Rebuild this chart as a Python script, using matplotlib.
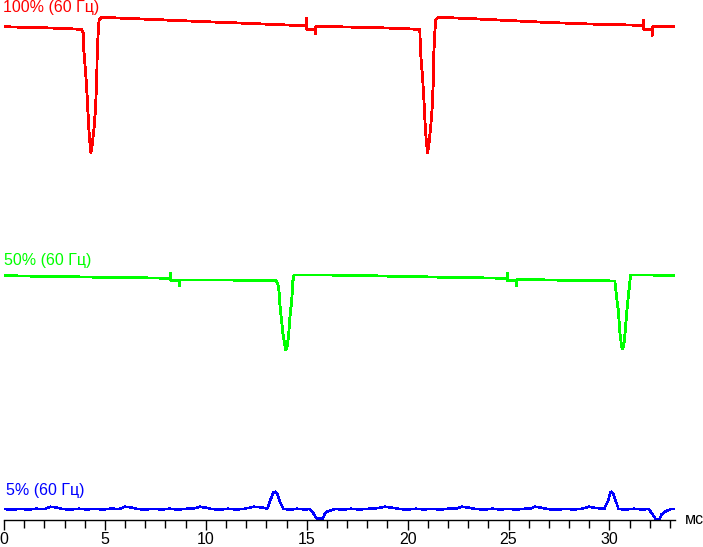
"""Screen brightness vs. time at 100 %, 50 % and 5 % backlight (60 Hz)."""

import matplotlib
matplotlib.use("Agg")
import matplotlib.pyplot as plt
from matplotlib.ticker import MultipleLocator

plt.rcParams["font.family"] = ["Liberation Sans", "DejaVu Sans"]

# time in ms, level in arbitrary units (traces stacked on one vertical scale)
red_t = [0.00, 1.0, 2.0, 3.0, 3.80, 3.85, 3.93, 3.96, 4.06, 4.13, 4.18, 4.23, 4.28,
         4.31, 4.38, 4.46, 4.53, 4.59, 4.62, 4.67, 4.71, 4.84, 6.0, 8.0, 10.0, 12.0,
         14.0, 14.98, 14.99, 15.00, 15.42, 15.43, 15.44, 15.46, 17.0, 19.0, 20.55,
         20.58, 20.61, 20.64, 20.74, 20.81, 20.86, 20.91, 20.96, 20.99, 21.06, 21.14,
         21.21, 21.27, 21.30, 21.35, 21.39, 21.52, 23.0, 25.0, 27.0, 29.0, 31.0,
         31.67, 31.68, 31.69, 32.11, 32.12, 32.13, 32.15, 33.3]
red_v = [493.3, 492.7, 492.2, 491.5, 490.7, 490.5, 486.7, 468.3, 443.3, 420, 400,
         383.3, 373.3, 367.3, 376.7, 391.7, 410, 436.7, 466.7, 488.3, 500, 502.7,
         501.7, 500, 498.3, 496.7, 495, 494.3, 501.7, 490.7, 490.7, 486, 490.7, 493.7,
         493, 492, 490.7, 490.5, 487, 468, 443, 420, 399, 383, 373, 367.5, 377, 392,
         410, 437, 467, 488, 500, 502.7, 501.5, 499.5, 497.5, 496, 495, 494.5, 500,
         490.7, 490.7, 484.3, 490.7, 493.7, 493.7]

green_t = [0.00, 2.0, 4.0, 6.0, 8.25, 8.26, 8.27, 8.70, 8.71, 8.72, 8.74, 11.0, 13.50,
           13.61, 13.68, 13.76, 13.84, 13.93, 13.97, 14.04, 14.11, 14.17, 14.26, 14.31,
           14.37, 16.0, 18.0, 20.0, 22.0, 24.93, 24.94, 24.95, 25.38, 25.39, 25.40,
           25.42, 27.0, 29.0, 30.27, 30.36, 30.44, 30.53, 30.61, 30.66, 30.74, 30.82,
           30.90, 30.97, 31.05, 32.0, 33.3]
green_v = [244.3, 243.7, 243, 242.5, 241.7, 246.7, 239.3, 239.3, 234, 239.3, 240, 240,
           239.3, 233.3, 213.3, 198.3, 183.3, 174, 170, 174, 186.7, 203.3, 220, 238.3,
           245, 245, 244.3, 243.5, 242.7, 241.7, 247, 239.3, 239.3, 234, 240, 240.7,
           240, 239.5, 239, 221.7, 210, 185, 173.3, 171, 178.3, 198.3, 216.7, 230, 245,
           245, 244.3]

blue_t = [0.0, 0.4, 0.8, 1.2, 1.6, 2.0, 2.3, 2.6, 2.9, 3.3, 3.7, 4.1, 4.5, 4.9, 5.3,
          5.7, 6.0, 6.3, 6.6, 7.0, 7.4, 7.8, 8.2, 8.6, 9.0, 9.4, 9.7, 10.0, 10.3, 10.7,
          11.1, 11.5, 11.9, 12.4, 12.8, 13.05, 13.2, 13.35, 13.45, 13.55, 13.7, 13.85,
          14.2, 14.5, 14.9, 15.15, 15.3, 15.5, 15.8, 15.88, 16.0, 16.4, 16.8, 17.2,
          17.6, 18.0, 18.4, 18.9, 19.2, 19.6, 20.0, 20.4, 20.8, 21.2, 21.6, 22.0, 22.4,
          22.7, 23.0, 23.4, 23.8, 24.2, 24.6, 25.0, 25.4, 25.8, 26.1, 26.3, 26.6, 27.0,
          27.4, 27.8, 28.2, 28.6, 29.0, 29.3, 29.75, 29.95, 30.05, 30.11, 30.2, 30.35,
          30.45, 30.8, 31.2, 31.6, 31.93, 32.1, 32.28, 32.5, 32.58, 32.75, 33.05, 33.3]
blue_v = [11, 10.3, 11.2, 10.4, 11.3, 10.8, 13.3, 12.5, 11, 10.4, 11.3, 10.5, 11.2, 10.4,
          11.4, 11, 13.3, 12.6, 11, 10.4, 11.2, 10.5, 11.3, 10.4, 11.2, 11.5, 13.3, 12.3,
          11, 10.3, 11.3, 10.5, 11.2, 13.3, 12.5, 11.5, 20, 27.5, 28.3, 26, 17, 11,
          10.4, 11.3, 10.5, 11, 7.5, 1.4, 1.3, 5.5, 8.3, 11, 10.4, 11.3, 10.5, 11.2,
          11.5, 13.3, 12.4, 11, 10.4, 11.3, 10.5, 11.2, 10.4, 11.3, 11.4, 13.3, 12.4, 11,
          10.4, 11.3, 10.5, 11.2, 10.4, 11.3, 11.5, 13.3, 12.4, 10.8, 10.2, 11.2, 10.5,
          11.2, 13.3, 12, 11.3, 20, 27.5, 28.3, 26, 17, 11, 10.4, 11.3, 10.5, 11, 7,
          1.2, 1.2, 5.5, 8.3, 11, 11]

traces = [
    (red_t, red_v, "#ff0000", 1.3, "100% (60 Гц)", -0.05, 508.3),
    (green_t, green_v, "#00ff00", 1.3, "50% (60 Гц)", 0.0, 255),
    (blue_t, blue_v, "#0000ff", 1.1, "5% (60 Гц)", 0.1, 25),
]

fig = plt.figure(figsize=(7.03, 5.47), dpi=100)
ax = fig.add_axes([4 / 703, 27 / 547, 671 / 703, 520 / 547])

for t, v, color, lw, label, lx, ly in traces:
    ax.plot(t, v, color=color, lw=lw, antialiased=False)
    ax.text(lx, ly, label, color=color, fontsize=11.5, va="baseline", ha="left")

ax.set_xlim(0, 33.25)
ax.set_ylim(0, 520)

for side in ("left", "right", "top"):
    ax.spines[side].set_visible(False)
ax.spines["bottom"].set_linewidth(1.0)
ax.set_yticks([])

ax.xaxis.set_major_locator(MultipleLocator(5))
ax.xaxis.set_minor_locator(MultipleLocator(1))
ax.tick_params(axis="x", which="major", length=7, width=1, labelsize=11.5, pad=1.5)
ax.tick_params(axis="x", which="minor", length=6, width=1)

ax.text(33.75, 0, "мс", fontsize=11.5, va="center", ha="left", clip_on=False)

fig.savefig("out.png", dpi=100)
